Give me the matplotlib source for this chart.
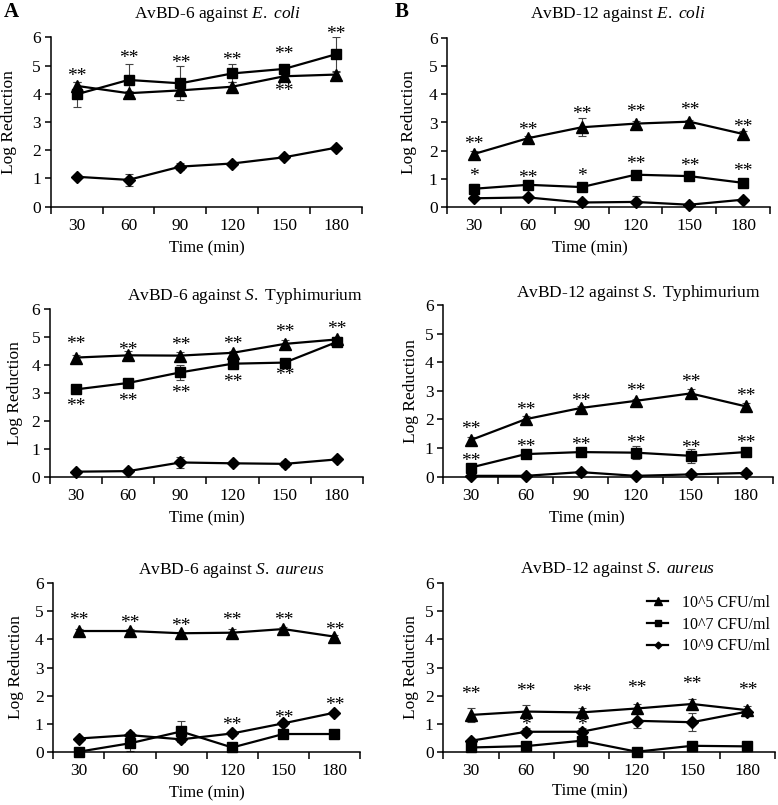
import matplotlib
matplotlib.use("Agg")
import matplotlib.pyplot as plt

plt.rcParams['font.family'] = ['Liberation Serif', 'DejaVu Serif']
plt.rcParams['mathtext.fontset'] = 'custom'
plt.rcParams['mathtext.rm'] = 'Liberation Serif'
plt.rcParams['mathtext.it'] = 'Liberation Serif:italic'

times = [30, 60, 90, 120, 150, 180]
series_labels = ["10^5 CFU/ml", "10^7 CFU/ml", "10^9 CFU/ml"]

# AvBD-6 against E. coli
a_ecoli_5 = [4.28, 4.02, 4.12, 4.25, 4.62, 4.68]
a_ecoli_5_err = [0.15, 0.08, 0.08, 0.15, 0.10, 0.10]
a_ecoli_7 = [3.98, 4.49, 4.37, 4.72, 4.88, 5.40]
a_ecoli_7_err = [0.45, 0.57, 0.60, 0.32, 0.10, 0.60]
a_ecoli_9 = [1.06, 0.95, 1.42, 1.53, 1.75, 2.09]
a_ecoli_9_err = [0.06, 0.22, 0.13, 0.06, 0.06, 0.05]
a_ecoli_star_t = [30, 60, 90, 120, 150, 180, 150]
a_ecoli_star_y = [4.80, 5.45, 5.25, 5.35, 5.57, 6.30, 4.27]
a_ecoli_star_s = ["**", "**", "**", "**", "**", "**", "**"]

# AvBD-12 against E. coli
b_ecoli_5 = [1.88, 2.44, 2.83, 2.96, 3.03, 2.59]
b_ecoli_5_err = [0.12, 0.08, 0.32, 0.08, 0.06, 0.10]
b_ecoli_7 = [0.64, 0.78, 0.70, 1.14, 1.09, 0.85]
b_ecoli_7_err = [0.17, 0.08, 0.06, 0.10, 0.08, 0.06]
b_ecoli_9 = [0.30, 0.33, 0.15, 0.17, 0.07, 0.25]
b_ecoli_9_err = [0.04, 0.04, 0.04, 0.22, 0.03, 0.04]
b_ecoli_star_t = [30, 60, 90, 120, 150, 180, 30, 60, 90, 120, 150, 180]
b_ecoli_star_y = [2.41, 2.90, 3.47, 3.56, 3.62, 3.00, 1.25, 1.19, 1.25, 1.69, 1.63, 1.45]
b_ecoli_star_s = ["**", "**", "**", "**", "**", "**", "*", "**", "*", "**", "**", "**"]

# AvBD-6 against S. Typhimurium
a_typh_5 = [4.27, 4.35, 4.34, 4.44, 4.76, 4.92]
a_typh_5_err = [0.08, 0.15, 0.12, 0.08, 0.15, 0.10]
a_typh_7 = [3.13, 3.36, 3.74, 4.05, 4.09, 4.83]
a_typh_7_err = [0.08, 0.08, 0.27, 0.12, 0.10, 0.15]
a_typh_9 = [0.18, 0.20, 0.51, 0.48, 0.46, 0.62]
a_typh_9_err = [0.04, 0.04, 0.20, 0.05, 0.10, 0.06]
a_typh_star_t = [30, 60, 90, 120, 150, 180, 30, 60, 90, 120, 150]
a_typh_star_y = [4.92, 4.72, 4.90, 4.93, 5.35, 5.47, 2.69, 2.89, 3.17, 3.58, 3.82]
a_typh_star_s = ["**"] * 11

# AvBD-12 against S. Typhimurium
b_typh_5 = [1.28, 2.01, 2.40, 2.65, 2.91, 2.46]
b_typh_5_err = [0.10, 0.10, 0.08, 0.08, 0.15, 0.12]
b_typh_7 = [0.32, 0.79, 0.86, 0.84, 0.73, 0.86]
b_typh_7_err = [0.06, 0.06, 0.05, 0.22, 0.25, 0.05]
b_typh_9 = [0.03, 0.03, 0.16, 0.03, 0.08, 0.13]
b_typh_9_err = [0.03, 0.03, 0.03, 0.03, 0.03, 0.03]
b_typh_star_t = [30, 60, 90, 120, 150, 180, 30, 60, 90, 120, 150, 180]
b_typh_star_y = [1.84, 2.50, 2.82, 3.17, 3.47, 2.97, 0.72, 1.20, 1.28, 1.34, 1.17, 1.36]
b_typh_star_s = ["**"] * 12

# AvBD-6 against S. aureus
a_aur_5 = [4.30, 4.30, 4.22, 4.24, 4.37, 4.10]
a_aur_5_err = [0.06, 0.06, 0.06, 0.14, 0.06, 0.06]
a_aur_7 = [0.00, 0.30, 0.72, 0.15, 0.63, 0.63]
a_aur_7_err = [0.03, 0.28, 0.36, 0.05, 0.05, 0.05]
a_aur_9 = [0.47, 0.59, 0.44, 0.65, 1.01, 1.39]
a_aur_9_err = [0.04, 0.10, 0.10, 0.10, 0.10, 0.05]
a_aur_star_t = [30, 60, 90, 120, 150, 180, 120, 150, 180]
a_aur_star_y = [4.87, 4.75, 4.66, 4.87, 4.87, 4.51, 1.13, 1.37, 1.84]
a_aur_star_s = ["**"] * 9

# AvBD-12 against S. aureus
b_aur_5 = [1.31, 1.43, 1.40, 1.54, 1.70, 1.48]
b_aur_5_err = [0.26, 0.23, 0.15, 0.16, 0.16, 0.15]
b_aur_7 = [0.15, 0.20, 0.39, 0.00, 0.21, 0.19]
b_aur_7_err = [0.03, 0.03, 0.06, 0.03, 0.03, 0.03]
b_aur_9 = [0.39, 0.71, 0.71, 1.10, 1.05, 1.43]
b_aur_9_err = [0.04, 0.12, 0.13, 0.25, 0.33, 0.06]
b_aur_star_t = [30, 60, 90, 120, 150, 180, 60, 90]
b_aur_star_y = [2.22, 2.32, 2.29, 2.43, 2.59, 2.37, 1.13, 1.13]
b_aur_star_s = ["**", "**", "**", "**", "**", "**", "*", "*"]

W, H = 778, 805
fig = plt.figure(figsize=(W / 100, H / 100), dpi=100)


def px_axes(left, right, top, bottom):
    return fig.add_axes([left / W, 1 - bottom / H, (right - left) / W, (bottom - top) / H])


panels = [
    dict(box=(50.7, 362, 37.3, 206.7), title=r"AvBD-6 against $\mathit{E.\ coli}$", tx=217, ty=18.3,
         ylx=9, xl=(207, 248),
         data=[(a_ecoli_5, a_ecoli_5_err), (a_ecoli_7, a_ecoli_7_err), (a_ecoli_9, a_ecoli_9_err)],
         stars=(a_ecoli_star_t, a_ecoli_star_y, a_ecoli_star_s)),
    dict(box=(447.3, 770, 38.3, 206.7), title=r"AvBD-12 against $\mathit{E.\ coli}$", tx=618, ty=18.3,
         ylx=409, xl=(590, 248),
         data=[(b_ecoli_5, b_ecoli_5_err), (b_ecoli_7, b_ecoli_7_err), (b_ecoli_9, b_ecoli_9_err)],
         stars=(b_ecoli_star_t, b_ecoli_star_y, b_ecoli_star_s)),
    dict(box=(50, 363, 309.3, 476.7), title=r"AvBD-6 against $\mathit{S.}$ Typhimurium", tx=245, ty=300,
         ylx=15, xl=(207, 518),
         data=[(a_typh_5, a_typh_5_err), (a_typh_7, a_typh_7_err), (a_typh_9, a_typh_9_err)],
         stars=(a_typh_star_t, a_typh_star_y, a_typh_star_s)),
    dict(box=(443.3, 773, 305, 476.7), title=r"AvBD-12 against $\mathit{S.}$ Typhimurium", tx=638, ty=296.7,
         ylx=410.7, xl=(587, 518),
         data=[(b_typh_5, b_typh_5_err), (b_typh_7, b_typh_7_err), (b_typh_9, b_typh_9_err)],
         stars=(b_typh_star_t, b_typh_star_y, b_typh_star_s)),
    dict(box=(53.3, 360, 583.3, 751.7), title=r"AvBD-6 against $\mathit{S.\ aureus}$", tx=231, ty=574.3,
         ylx=15.7, xl=(207, 793),
         data=[(a_aur_5, a_aur_5_err), (a_aur_7, a_aur_7_err), (a_aur_9, a_aur_9_err)],
         stars=(a_aur_star_t, a_aur_star_y, a_aur_star_s)),
    dict(box=(443.3, 775, 583.3, 751.7), title=r"AvBD-12 against $\mathit{S.\ aureus}$", tx=617, ty=573.3,
         ylx=410.7, xl=(590, 791.7),
         data=[(b_aur_5, b_aur_5_err), (b_aur_7, b_aur_7_err), (b_aur_9, b_aur_9_err)],
         stars=(b_aur_star_t, b_aur_star_y, b_aur_star_s)),
]

markers = [("^", 8.5), ("s", 7.5), ("D", 5.8)]
xpos = list(range(1, len(times) + 1))
FS = 12.5

for i, p in enumerate(panels):
    ax = px_axes(*p["box"])
    for (vals, errs), (m, ms), lab in zip(p["data"], markers, series_labels):
        ax.errorbar(xpos, vals, yerr=errs, fmt="none", ecolor="#444444", elinewidth=0.8,
                    capsize=3, capthick=0.8, zorder=2)
        ax.plot(xpos, vals, color="black", lw=1.6, marker=m, ms=ms, mfc="black", mec="black",
                zorder=3, clip_on=False, label=lab)
    st, sy, ss = p["stars"]
    for t, y, s in zip(st, sy, ss):
        ax.annotate(s, (times.index(t) + 1, y), xytext=(0, -7), textcoords="offset points",
                    ha="center", va="baseline", fontsize=14, annotation_clip=False)
    ax.set_xlim(0.5, len(times) + 0.5)
    ax.set_ylim(0, 6)
    ax.set_yticks(range(0, 7))
    ax.set_xticks([k + 0.5 for k in range(0, len(times) + 1)])
    ax.set_xticklabels([])
    ax.set_xticks(xpos, minor=True)
    ax.set_xticklabels([str(t) for t in times], minor=True, fontsize=FS)
    ax.tick_params(axis="x", which="major", direction="out", length=5, width=1.1)
    ax.tick_params(axis="x", which="minor", length=0, pad=8)
    ax.tick_params(axis="y", direction="out", length=4, width=1.1, pad=3, labelsize=FS)
    for sp in ("top", "right"):
        ax.spines[sp].set_visible(False)
    for sp in ("left", "bottom"):
        ax.spines[sp].set_linewidth(1.1)
    cy = (p["box"][2] + p["box"][3]) / 2
    fig.text(p["ylx"] / W, 1 - cy / H, "Log Reduction", rotation=90, ha="center", va="center",
             fontsize=FS)
    fig.text(p["xl"][0] / W, 1 - p["xl"][1] / H, "Time (min)", ha="center", va="center", fontsize=12)
    fig.text(p["tx"] / W, 1 - p["ty"] / H, p["title"], ha="center", va="baseline", fontsize=12.5)
    if i == 5:
        ax.legend(loc="upper left", bbox_to_anchor=(0.615, 0.93), frameon=False, fontsize=11.5,
                  handlelength=1.3, handletextpad=0.9, labelspacing=0.35, markerscale=0.6,
                  borderpad=0, borderaxespad=0)

fig.text(4 / W, 1 - 16.7 / H, "A", fontsize=15, fontweight="bold", ha="left", va="baseline")
fig.text(395 / W, 1 - 16.7 / H, "B", fontsize=15, fontweight="bold", ha="left", va="baseline")

fig.savefig("out.png", dpi=100)
